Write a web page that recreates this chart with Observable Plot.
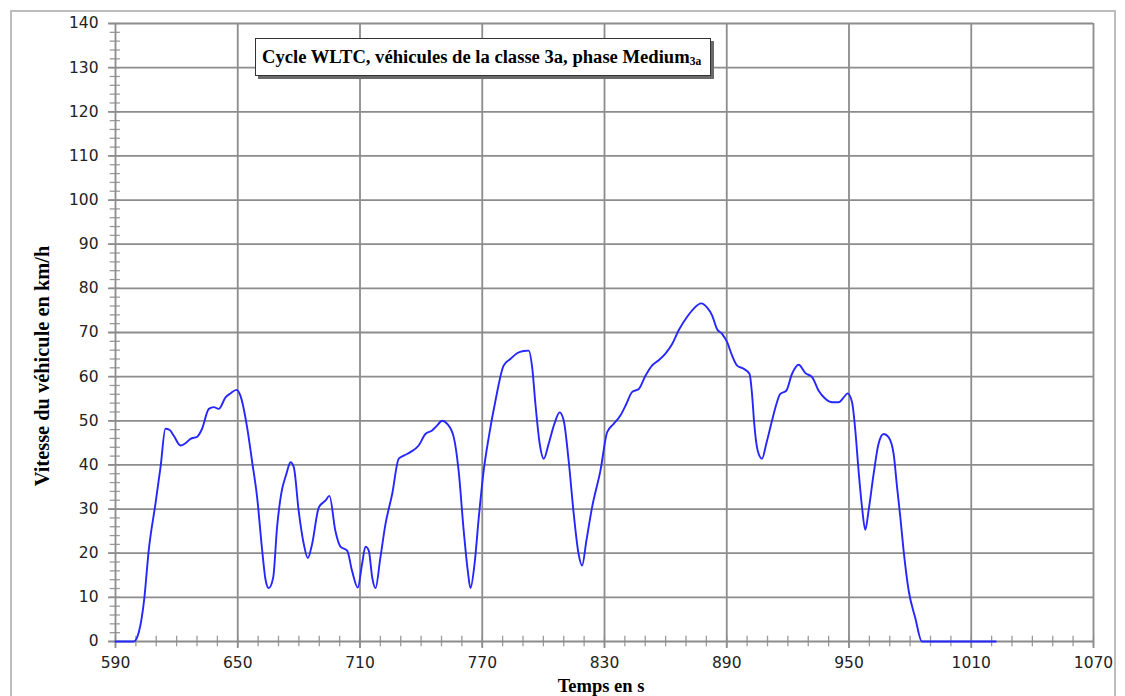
<!DOCTYPE html>
<html>
<head>
<meta charset="utf-8">
<script src="https://cdn.jsdelivr.net/npm/d3@7"></script>
<script src="https://cdn.jsdelivr.net/npm/@observablehq/plot@0.6"></script>
<style>
  html, body { margin: 0; padding: 0; background: #fff; }
  #wrap { position: relative; width: 1125px; height: 696px; overflow: hidden; }
  #frame { position: absolute; left: 10px; top: 10px; width: 1106px; height: 700px; border: 2px solid #bdbdbd; box-sizing: border-box; }
  #chart { position: absolute; left: 0; top: 0; }
  #title { position: absolute; left: 255px; top: 38px; width: 456px; height: 38px; border: 1px solid #333; box-shadow: 3px 3px 0 #6a6a6a; background: #fff;
           font-family: "Liberation Serif", "Times New Roman", serif; font-weight: bold; font-size: 18.6px; line-height: 36px; padding-left: 6px; box-sizing: border-box; color: #000; white-space: nowrap; }
  #title sub { font-size: 11.5px; vertical-align: baseline; position: relative; top: 2px; }
  #xlabel { position: absolute; left: 501px; width: 200px; top: 677px; height: 18px; line-height: 18px; text-align: center;
            font-family: "Liberation Serif", "Times New Roman", serif; font-weight: bold; font-size: 18.5px; color: #000; }
  #ylabel { position: absolute; left: 42px; top: 366px; transform: translate(-50%, -50%) rotate(-90deg); line-height: 20px;
            font-family: "Liberation Serif", "Times New Roman", serif; font-weight: bold; font-size: 20.4px; color: #000; white-space: nowrap; }
</style>
</head>
<body>
<div id="wrap">
  <div id="frame"></div>
  <div id="chart"></div>
  <div id="title">Cycle WLTC, véhicules de la classe 3a, phase Medium<sub>3a</sub></div>
  <div id="xlabel">Temps en s</div>
  <div id="ylabel">Vitesse du véhicule en km/h</div>
</div>
<script>
// Time (s)
const time = [
  590, 599, 601.5, 604, 606.3, 609.6, 612.1, 614.5, 616.6, 618.6,
  621.9, 624.3, 626.8, 630.1, 632.5, 635.8, 638.2, 640.7, 644, 646.4,
  649.4, 651.3, 654.6, 657.1, 659.5, 662, 663.6, 665.2, 667.4, 669.3,
  671.3, 673.9, 675.9, 677.5, 679.9, 682.4, 684.4, 686.5, 689.8, 693,
  695, 697.9, 700.4, 703.7, 706.1, 708.9, 711, 712.7, 714.3, 716,
  717.6, 720, 722.5, 725.8, 729, 731.5, 734.7, 738.8, 742.1, 745.4,
  747.8, 750.3, 752.8, 756, 758.4, 760.9, 762.9, 764.2, 766.2, 768.3,
  770.7, 773.2, 776.5, 780.5, 783.8, 787.1, 790.3, 792.8, 794.5, 796.1,
  798.2, 800.2, 802.6, 805.4, 808, 810, 812.4, 814.9, 817.3, 819,
  821.1, 823.9, 828, 831.3, 834.5, 837.8, 840.7, 843.5, 846.8, 850.1,
  853.3, 856.6, 859.9, 863.2, 866.4, 870.5, 873.8, 877.4, 880.3, 882.8,
  885.2, 887.7, 890.2, 892.6, 895.1, 898.3, 901.2, 902.4, 903.5, 905.2,
  907.3, 909.4, 912.2, 914, 916.3, 919.2, 922, 925.3, 928.6, 931.9,
  935.1, 938.4, 941.7, 944.9, 947.4, 949.3, 951.5, 953.1, 954.7, 956.4,
  958, 959.6, 962.1, 964.5, 967, 969.4, 971.9, 973.6, 975.2, 976.8,
  979.3, 982.5, 985.8, 1022
];
// Vehicle speed (km/h)
const speed = [
  0, 0, 2.2, 9.2, 20.6, 31.2, 39.5, 48.2, 47.9, 46.6,
  44.4, 44.9, 45.9, 46.4, 48.2, 52.7, 53.1, 52.7, 55.3, 56.2,
  57.0, 55.7, 48.5, 40.6, 32.7, 20.6, 14.1, 12.1, 14.5, 25.9,
  33.4, 38.0, 40.6, 39.5, 29.6, 22.1, 18.9, 22.1, 30.4, 31.9,
  33.0, 25.1, 21.5, 20.6, 16.0, 12.2, 17.5, 21.5, 20.6, 14.5,
  12.1, 19.0, 26.6, 33.4, 41.4, 42.1, 42.9, 44.4, 47.0, 47.8,
  48.9, 50.0, 49.3, 46.3, 38.7, 25.1, 16.0, 12.1, 17.5, 28.1,
  38.7, 46.3, 54.6, 62.5, 64.0, 65.3, 65.8, 65.9, 62.1, 53.8,
  44.8, 41.4, 44.8, 49.3, 51.9, 50.0, 41.0, 28.9, 19.8, 17.2,
  22.8, 30.4, 38.7, 47.4, 49.3, 51.2, 53.8, 56.5, 57.2, 60.2,
  62.5, 63.7, 65.2, 67.4, 70.5, 73.5, 75.4, 76.6, 75.7, 73.9,
  70.8, 69.7, 67.8, 64.8, 62.5, 61.8, 60.6, 56.1, 49.3, 43.2,
  41.4, 44.8, 50.0, 53.2, 56.1, 56.8, 60.6, 62.7, 60.8, 59.9,
  56.8, 55.0, 54.2, 54.2, 55.3, 56.2, 54.2, 47.8, 38.7, 30.4,
  25.3, 29.6, 38.0, 44.8, 47.0, 46.3, 42.5, 34.9, 28.1, 20.6,
  11.5, 5.4, 0, 0
];
// Tick labels
const xTicks = [590, 650, 710, 770, 830, 890, 950, 1010, 1070];
const yTicks = [0, 10, 20, 30, 40, 50, 60, 70, 80, 90, 100, 110, 120, 130, 140];
const xMinor = d3.range(590, 1071, 10);
const yMinor = d3.range(0, 141, 2);

const data = time.map((t, i) => ({t, v: speed[i]}));

const gridColor = "#8c8c8c";
const chart = Plot.plot({
  width: 1125,
  height: 696,
  marginLeft: 115,
  marginRight: 32,
  marginTop: 23,
  marginBottom: 55,
  style: {background: "transparent", overflow: "visible"},
  x: {domain: [590, 1070], type: "linear"},
  y: {domain: [0, 140], type: "linear"},
  marks: [
    // minor ticks crossing axes
    Plot.ruleX(xMinor, {x: d => d, y1: -1.2, y2: 1.2, stroke: "#9a9a9a", strokeWidth: 1.3}),
    Plot.ruleY(yMinor, {y: d => d, x1: 590 - 2.6, x2: 590 + 2.4, stroke: "#9a9a9a", strokeWidth: 1.3}),
    // major grid lines
    Plot.ruleX(xTicks, {x: d => d, y1: -1.6, y2: 140, stroke: gridColor, strokeWidth: 1.8}),
    Plot.ruleY(yTicks, {y: d => d, x1: 590 - 3.4, x2: 1070, stroke: gridColor, strokeWidth: 1.8}),
    // tick labels
    Plot.axisX({ticks: xTicks, tickSize: 0, tickPadding: 15, tickFormat: d => String(d), fontSize: 15.5, fontFamily: "DejaVu Sans", fill: "#222", label: null}),
    Plot.axisY({ticks: yTicks, tickSize: 0, tickPadding: 17, tickFormat: d => String(d), fontSize: 15.5, fontFamily: "DejaVu Sans", fill: "#222", label: null}),
    // speed curve
    Plot.line(data, {x: "t", y: "v", curve: "monotone-x", stroke: "#2626ff", strokeWidth: 1.9})
  ]
});
document.getElementById("chart").appendChild(chart);
</script>
</body>
</html>
